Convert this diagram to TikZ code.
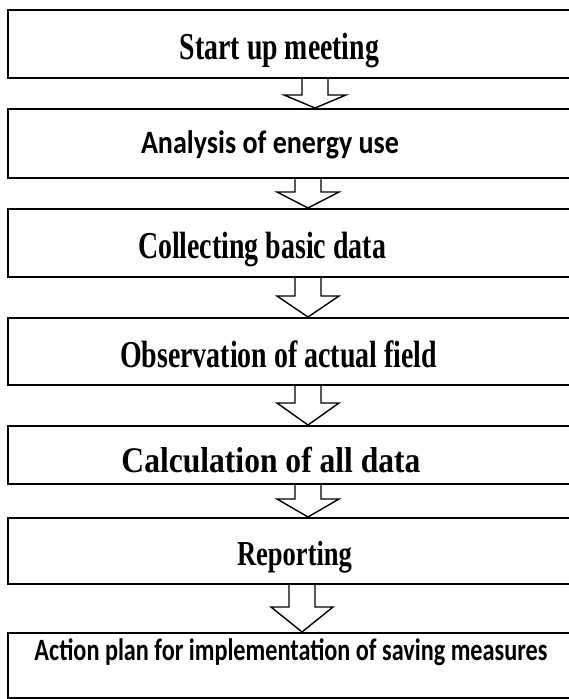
\documentclass[tikz,border=0pt]{standalone}
\usepackage{fontspec}
\usepackage{graphicx}
\setmainfont{Liberation Serif}
\newfontfamily\calfont{Carlito}
\usetikzlibrary{calc}

% one stage of the procedure: a wide frame running off the right edge
\tikzset{
  stagebox/.style={draw=black, line width=2pt, fill=white, rectangle,
    anchor=north west, inner sep=0pt},
  stagetext/.style={anchor=base, inner sep=0pt, text=black},
  flowarrow/.style={draw=black, line width=1.4pt, fill=white, line join=miter},
}

% condensed label: fixed width, natural height
\newcommand{\stagelabel}[3]{\resizebox{#1pt}{\height}{\fontsize{#2}{#2}\selectfont\bfseries #3}}

% hollow block arrow from the bottom of one frame to the top of the next
% #1 upper node, #2 lower node, #3 axis x, #4 y where the head begins
\newcommand{\blockarrow}[4]{%
  \filldraw[flowarrow] let \p1=(#1.south), \p2=(#2.north) in
    (#3-13,\y1) -- (#3-13,#4) -- (#3-31,#4) -- (#3,\y2)
    -- (#3+31,#4) -- (#3+13,#4) -- (#3+13,\y1);
}

\begin{document}
\begin{tikzpicture}[x=1pt, y=-1pt]
  \useasboundingbox (0,0) rectangle (569,699);
  \clip (0,0) rectangle (569,699);
  \fill[white] (0,0) rectangle (569,699);

  % frames
  \node[stagebox, minimum width=620pt, minimum height=68pt] (b1) at (7,9) {};
  \node[stagebox, minimum width=620pt, minimum height=69pt] (b2) at (7,108) {};
  \node[stagebox, minimum width=620pt, minimum height=68pt] (b3) at (7,208) {};
  \node[stagebox, minimum width=620pt, minimum height=67pt] (b4) at (7,317) {};
  \node[stagebox, minimum width=620pt, minimum height=58pt] (b5) at (7,425) {};
  \node[stagebox, minimum width=620pt, minimum height=66pt] (b6) at (7,517) {};
  \node[stagebox, minimum width=620pt, minimum height=65pt] (b7) at (7,632) {};

  % labels
  \node[stagetext] (t1) at (279.5,59) {\stagelabel{199}{38}{Start up meeting}};
  \node[stagetext] (t2) at (270,153) {\calfont\stagelabel{258}{32.6}{Analysis of energy use}};
  \node[stagetext] (t3) at (262,258) {\stagelabel{248}{38}{Collecting basic data}};
  \node[stagetext] (t4) at (278.5,367) {\stagelabel{317}{38}{Observation of actual field}};
  \node[stagetext] (t5) at (271,472) {\stagelabel{299}{36}{Calculation of all data}};
  \node[stagetext] (t6) at (294.5,565) {\stagelabel{115}{35}{Reporting}};
  \node[stagetext] (t7) at (291,660) {\calfont\stagelabel{513}{31}{Action plan for implementation of saving measures}};

  % arrows between stages
  \blockarrow{b1}{b2}{315}{95}
  \blockarrow{b2}{b3}{308}{192}
  \blockarrow{b3}{b4}{308}{296}
  \blockarrow{b4}{b5}{308}{403}
  \blockarrow{b5}{b6}{308}{499}
  \blockarrow{b6}{b7}{302}{607}
\end{tikzpicture}
\end{document}
